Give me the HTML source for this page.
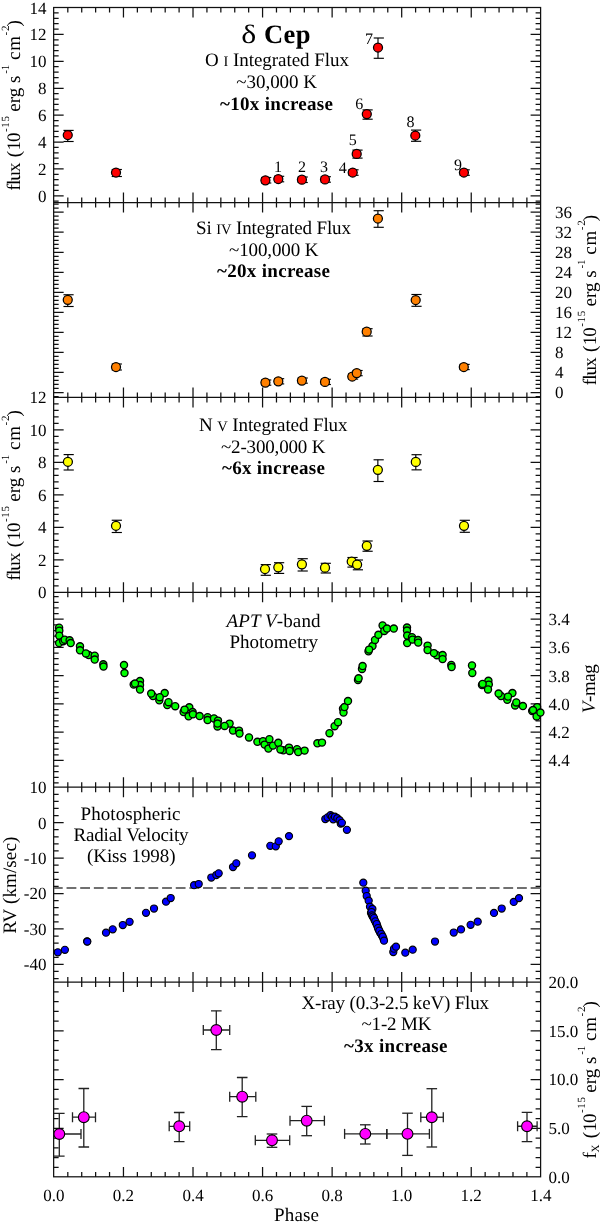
<!DOCTYPE html>
<html><head><meta charset="utf-8"><style>
html,body{margin:0;padding:0;background:#fff;width:600px;height:1222px;overflow:hidden}
svg{display:block;will-change:transform}
text{fill:#000;text-rendering:geometricPrecision;-webkit-font-smoothing:antialiased}
</style></head><body>
<svg width="600" height="1222" viewBox="0 0 600 1222">
<defs><clipPath id="c6"><rect x="53.65" y="982.1" width="486.95" height="194.9"/></clipPath></defs>
<rect width="600" height="1222" fill="#fff"/>
<path d="M67.81 7.60V12.60M67.81 202.50V197.50M81.72 7.60V12.60M81.72 202.50V197.50M95.63 7.60V12.60M95.63 202.50V197.50M109.55 7.60V12.60M109.55 202.50V197.50M123.46 7.60V17.60M123.46 202.50V192.50M137.37 7.60V12.60M137.37 202.50V197.50M151.28 7.60V12.60M151.28 202.50V197.50M165.19 7.60V12.60M165.19 202.50V197.50M179.10 7.60V12.60M179.10 202.50V197.50M193.01 7.60V17.60M193.01 202.50V192.50M206.93 7.60V12.60M206.93 202.50V197.50M220.84 7.60V12.60M220.84 202.50V197.50M234.75 7.60V12.60M234.75 202.50V197.50M248.66 7.60V12.60M248.66 202.50V197.50M262.57 7.60V17.60M262.57 202.50V192.50M276.48 7.60V12.60M276.48 202.50V197.50M290.39 7.60V12.60M290.39 202.50V197.50M304.31 7.60V12.60M304.31 202.50V197.50M318.22 7.60V12.60M318.22 202.50V197.50M332.13 7.60V17.60M332.13 202.50V192.50M346.04 7.60V12.60M346.04 202.50V197.50M359.95 7.60V12.60M359.95 202.50V197.50M373.86 7.60V12.60M373.86 202.50V197.50M387.77 7.60V12.60M387.77 202.50V197.50M401.69 7.60V17.60M401.69 202.50V192.50M415.60 7.60V12.60M415.60 202.50V197.50M429.51 7.60V12.60M429.51 202.50V197.50M443.42 7.60V12.60M443.42 202.50V197.50M457.33 7.60V12.60M457.33 202.50V197.50M471.24 7.60V17.60M471.24 202.50V192.50M485.15 7.60V12.60M485.15 202.50V197.50M499.07 7.60V12.60M499.07 202.50V197.50M512.98 7.60V12.60M512.98 202.50V197.50M526.89 7.60V12.60M526.89 202.50V197.50M67.81 202.50V207.50M67.81 397.40V392.40M81.72 202.50V207.50M81.72 397.40V392.40M95.63 202.50V207.50M95.63 397.40V392.40M109.55 202.50V207.50M109.55 397.40V392.40M123.46 202.50V212.50M123.46 397.40V387.40M137.37 202.50V207.50M137.37 397.40V392.40M151.28 202.50V207.50M151.28 397.40V392.40M165.19 202.50V207.50M165.19 397.40V392.40M179.10 202.50V207.50M179.10 397.40V392.40M193.01 202.50V212.50M193.01 397.40V387.40M206.93 202.50V207.50M206.93 397.40V392.40M220.84 202.50V207.50M220.84 397.40V392.40M234.75 202.50V207.50M234.75 397.40V392.40M248.66 202.50V207.50M248.66 397.40V392.40M262.57 202.50V212.50M262.57 397.40V387.40M276.48 202.50V207.50M276.48 397.40V392.40M290.39 202.50V207.50M290.39 397.40V392.40M304.31 202.50V207.50M304.31 397.40V392.40M318.22 202.50V207.50M318.22 397.40V392.40M332.13 202.50V212.50M332.13 397.40V387.40M346.04 202.50V207.50M346.04 397.40V392.40M359.95 202.50V207.50M359.95 397.40V392.40M373.86 202.50V207.50M373.86 397.40V392.40M387.77 202.50V207.50M387.77 397.40V392.40M401.69 202.50V212.50M401.69 397.40V387.40M415.60 202.50V207.50M415.60 397.40V392.40M429.51 202.50V207.50M429.51 397.40V392.40M443.42 202.50V207.50M443.42 397.40V392.40M457.33 202.50V207.50M457.33 397.40V392.40M471.24 202.50V212.50M471.24 397.40V387.40M485.15 202.50V207.50M485.15 397.40V392.40M499.07 202.50V207.50M499.07 397.40V392.40M512.98 202.50V207.50M512.98 397.40V392.40M526.89 202.50V207.50M526.89 397.40V392.40M67.81 397.40V402.40M67.81 592.30V587.30M81.72 397.40V402.40M81.72 592.30V587.30M95.63 397.40V402.40M95.63 592.30V587.30M109.55 397.40V402.40M109.55 592.30V587.30M123.46 397.40V407.40M123.46 592.30V582.30M137.37 397.40V402.40M137.37 592.30V587.30M151.28 397.40V402.40M151.28 592.30V587.30M165.19 397.40V402.40M165.19 592.30V587.30M179.10 397.40V402.40M179.10 592.30V587.30M193.01 397.40V407.40M193.01 592.30V582.30M206.93 397.40V402.40M206.93 592.30V587.30M220.84 397.40V402.40M220.84 592.30V587.30M234.75 397.40V402.40M234.75 592.30V587.30M248.66 397.40V402.40M248.66 592.30V587.30M262.57 397.40V407.40M262.57 592.30V582.30M276.48 397.40V402.40M276.48 592.30V587.30M290.39 397.40V402.40M290.39 592.30V587.30M304.31 397.40V402.40M304.31 592.30V587.30M318.22 397.40V402.40M318.22 592.30V587.30M332.13 397.40V407.40M332.13 592.30V582.30M346.04 397.40V402.40M346.04 592.30V587.30M359.95 397.40V402.40M359.95 592.30V587.30M373.86 397.40V402.40M373.86 592.30V587.30M387.77 397.40V402.40M387.77 592.30V587.30M401.69 397.40V407.40M401.69 592.30V582.30M415.60 397.40V402.40M415.60 592.30V587.30M429.51 397.40V402.40M429.51 592.30V587.30M443.42 397.40V402.40M443.42 592.30V587.30M457.33 397.40V402.40M457.33 592.30V587.30M471.24 397.40V407.40M471.24 592.30V582.30M485.15 397.40V402.40M485.15 592.30V587.30M499.07 397.40V402.40M499.07 592.30V587.30M512.98 397.40V402.40M512.98 592.30V587.30M526.89 397.40V402.40M526.89 592.30V587.30M67.81 592.30V597.30M67.81 787.20V782.20M81.72 592.30V597.30M81.72 787.20V782.20M95.63 592.30V597.30M95.63 787.20V782.20M109.55 592.30V597.30M109.55 787.20V782.20M123.46 592.30V602.30M123.46 787.20V777.20M137.37 592.30V597.30M137.37 787.20V782.20M151.28 592.30V597.30M151.28 787.20V782.20M165.19 592.30V597.30M165.19 787.20V782.20M179.10 592.30V597.30M179.10 787.20V782.20M193.01 592.30V602.30M193.01 787.20V777.20M206.93 592.30V597.30M206.93 787.20V782.20M220.84 592.30V597.30M220.84 787.20V782.20M234.75 592.30V597.30M234.75 787.20V782.20M248.66 592.30V597.30M248.66 787.20V782.20M262.57 592.30V602.30M262.57 787.20V777.20M276.48 592.30V597.30M276.48 787.20V782.20M290.39 592.30V597.30M290.39 787.20V782.20M304.31 592.30V597.30M304.31 787.20V782.20M318.22 592.30V597.30M318.22 787.20V782.20M332.13 592.30V602.30M332.13 787.20V777.20M346.04 592.30V597.30M346.04 787.20V782.20M359.95 592.30V597.30M359.95 787.20V782.20M373.86 592.30V597.30M373.86 787.20V782.20M387.77 592.30V597.30M387.77 787.20V782.20M401.69 592.30V602.30M401.69 787.20V777.20M415.60 592.30V597.30M415.60 787.20V782.20M429.51 592.30V597.30M429.51 787.20V782.20M443.42 592.30V597.30M443.42 787.20V782.20M457.33 592.30V597.30M457.33 787.20V782.20M471.24 592.30V602.30M471.24 787.20V777.20M485.15 592.30V597.30M485.15 787.20V782.20M499.07 592.30V597.30M499.07 787.20V782.20M512.98 592.30V597.30M512.98 787.20V782.20M526.89 592.30V597.30M526.89 787.20V782.20M67.81 787.20V792.20M67.81 982.10V977.10M81.72 787.20V792.20M81.72 982.10V977.10M95.63 787.20V792.20M95.63 982.10V977.10M109.55 787.20V792.20M109.55 982.10V977.10M123.46 787.20V797.20M123.46 982.10V972.10M137.37 787.20V792.20M137.37 982.10V977.10M151.28 787.20V792.20M151.28 982.10V977.10M165.19 787.20V792.20M165.19 982.10V977.10M179.10 787.20V792.20M179.10 982.10V977.10M193.01 787.20V797.20M193.01 982.10V972.10M206.93 787.20V792.20M206.93 982.10V977.10M220.84 787.20V792.20M220.84 982.10V977.10M234.75 787.20V792.20M234.75 982.10V977.10M248.66 787.20V792.20M248.66 982.10V977.10M262.57 787.20V797.20M262.57 982.10V972.10M276.48 787.20V792.20M276.48 982.10V977.10M290.39 787.20V792.20M290.39 982.10V977.10M304.31 787.20V792.20M304.31 982.10V977.10M318.22 787.20V792.20M318.22 982.10V977.10M332.13 787.20V797.20M332.13 982.10V972.10M346.04 787.20V792.20M346.04 982.10V977.10M359.95 787.20V792.20M359.95 982.10V977.10M373.86 787.20V792.20M373.86 982.10V977.10M387.77 787.20V792.20M387.77 982.10V977.10M401.69 787.20V797.20M401.69 982.10V972.10M415.60 787.20V792.20M415.60 982.10V977.10M429.51 787.20V792.20M429.51 982.10V977.10M443.42 787.20V792.20M443.42 982.10V977.10M457.33 787.20V792.20M457.33 982.10V977.10M471.24 787.20V797.20M471.24 982.10V972.10M485.15 787.20V792.20M485.15 982.10V977.10M499.07 787.20V792.20M499.07 982.10V977.10M512.98 787.20V792.20M512.98 982.10V977.10M526.89 787.20V792.20M526.89 982.10V977.10M67.81 982.10V987.10M67.81 1177.00V1172.00M81.72 982.10V987.10M81.72 1177.00V1172.00M95.63 982.10V987.10M95.63 1177.00V1172.00M109.55 982.10V987.10M109.55 1177.00V1172.00M123.46 982.10V992.10M123.46 1177.00V1167.00M137.37 982.10V987.10M137.37 1177.00V1172.00M151.28 982.10V987.10M151.28 1177.00V1172.00M165.19 982.10V987.10M165.19 1177.00V1172.00M179.10 982.10V987.10M179.10 1177.00V1172.00M193.01 982.10V992.10M193.01 1177.00V1167.00M206.93 982.10V987.10M206.93 1177.00V1172.00M220.84 982.10V987.10M220.84 1177.00V1172.00M234.75 982.10V987.10M234.75 1177.00V1172.00M248.66 982.10V987.10M248.66 1177.00V1172.00M262.57 982.10V992.10M262.57 1177.00V1167.00M276.48 982.10V987.10M276.48 1177.00V1172.00M290.39 982.10V987.10M290.39 1177.00V1172.00M304.31 982.10V987.10M304.31 1177.00V1172.00M318.22 982.10V987.10M318.22 1177.00V1172.00M332.13 982.10V992.10M332.13 1177.00V1167.00M346.04 982.10V987.10M346.04 1177.00V1172.00M359.95 982.10V987.10M359.95 1177.00V1172.00M373.86 982.10V987.10M373.86 1177.00V1172.00M387.77 982.10V987.10M387.77 1177.00V1172.00M401.69 982.10V992.10M401.69 1177.00V1167.00M415.60 982.10V987.10M415.60 1177.00V1172.00M429.51 982.10V987.10M429.51 1177.00V1172.00M443.42 982.10V987.10M443.42 1177.00V1172.00M457.33 982.10V987.10M457.33 1177.00V1172.00M471.24 982.10V992.10M471.24 1177.00V1167.00M485.15 982.10V987.10M485.15 1177.00V1172.00M499.07 982.10V987.10M499.07 1177.00V1172.00M512.98 982.10V987.10M512.98 1177.00V1172.00M526.89 982.10V987.10M526.89 1177.00V1172.00M53.65 201.16H58.65M540.60 201.16H535.60M53.65 195.78H63.65M540.60 195.78H530.60M53.65 190.40H58.65M540.60 190.40H535.60M53.65 185.03H58.65M540.60 185.03H535.60M53.65 179.65H58.65M540.60 179.65H535.60M53.65 174.27H58.65M540.60 174.27H535.60M53.65 168.90H63.65M540.60 168.90H530.60M53.65 163.52H58.65M540.60 163.52H535.60M53.65 158.14H58.65M540.60 158.14H535.60M53.65 152.77H58.65M540.60 152.77H535.60M53.65 147.39H58.65M540.60 147.39H535.60M53.65 142.01H63.65M540.60 142.01H530.60M53.65 136.64H58.65M540.60 136.64H535.60M53.65 131.26H58.65M540.60 131.26H535.60M53.65 125.88H58.65M540.60 125.88H535.60M53.65 120.51H58.65M540.60 120.51H535.60M53.65 115.13H63.65M540.60 115.13H530.60M53.65 109.75H58.65M540.60 109.75H535.60M53.65 104.38H58.65M540.60 104.38H535.60M53.65 99.00H58.65M540.60 99.00H535.60M53.65 93.62H58.65M540.60 93.62H535.60M53.65 88.25H63.65M540.60 88.25H530.60M53.65 82.87H58.65M540.60 82.87H535.60M53.65 77.50H58.65M540.60 77.50H535.60M53.65 72.12H58.65M540.60 72.12H535.60M53.65 66.74H58.65M540.60 66.74H535.60M53.65 61.37H63.65M540.60 61.37H530.60M53.65 55.99H58.65M540.60 55.99H535.60M53.65 50.61H58.65M540.60 50.61H535.60M53.65 45.24H58.65M540.60 45.24H535.60M53.65 39.86H58.65M540.60 39.86H535.60M53.65 34.48H63.65M540.60 34.48H530.60M53.65 29.11H58.65M540.60 29.11H535.60M53.65 23.73H58.65M540.60 23.73H535.60M53.65 18.35H58.65M540.60 18.35H535.60M53.65 12.98H58.65M540.60 12.98H535.60M53.65 396.51H58.65M540.60 396.51H535.60M53.65 392.50H63.65M540.60 392.50H530.60M53.65 388.49H58.65M540.60 388.49H535.60M53.65 384.49H58.65M540.60 384.49H535.60M53.65 380.48H58.65M540.60 380.48H535.60M53.65 376.47H58.65M540.60 376.47H535.60M53.65 372.47H63.65M540.60 372.47H530.60M53.65 368.46H58.65M540.60 368.46H535.60M53.65 364.46H58.65M540.60 364.46H535.60M53.65 360.45H58.65M540.60 360.45H535.60M53.65 356.44H58.65M540.60 356.44H535.60M53.65 352.44H63.65M540.60 352.44H530.60M53.65 348.43H58.65M540.60 348.43H535.60M53.65 344.42H58.65M540.60 344.42H535.60M53.65 340.42H58.65M540.60 340.42H535.60M53.65 336.41H58.65M540.60 336.41H535.60M53.65 332.40H63.65M540.60 332.40H530.60M53.65 328.40H58.65M540.60 328.40H535.60M53.65 324.39H58.65M540.60 324.39H535.60M53.65 320.38H58.65M540.60 320.38H535.60M53.65 316.38H58.65M540.60 316.38H535.60M53.65 312.37H63.65M540.60 312.37H530.60M53.65 308.37H58.65M540.60 308.37H535.60M53.65 304.36H58.65M540.60 304.36H535.60M53.65 300.35H58.65M540.60 300.35H535.60M53.65 296.35H58.65M540.60 296.35H535.60M53.65 292.34H63.65M540.60 292.34H530.60M53.65 288.33H58.65M540.60 288.33H535.60M53.65 284.33H58.65M540.60 284.33H535.60M53.65 280.32H58.65M540.60 280.32H535.60M53.65 276.31H58.65M540.60 276.31H535.60M53.65 272.31H63.65M540.60 272.31H530.60M53.65 268.30H58.65M540.60 268.30H535.60M53.65 264.30H58.65M540.60 264.30H535.60M53.65 260.29H58.65M540.60 260.29H535.60M53.65 256.28H58.65M540.60 256.28H535.60M53.65 252.28H63.65M540.60 252.28H530.60M53.65 248.27H58.65M540.60 248.27H535.60M53.65 244.26H58.65M540.60 244.26H535.60M53.65 240.26H58.65M540.60 240.26H535.60M53.65 236.25H58.65M540.60 236.25H535.60M53.65 232.24H63.65M540.60 232.24H530.60M53.65 228.24H58.65M540.60 228.24H535.60M53.65 224.23H58.65M540.60 224.23H535.60M53.65 220.22H58.65M540.60 220.22H535.60M53.65 216.22H58.65M540.60 216.22H535.60M53.65 212.21H63.65M540.60 212.21H530.60M53.65 208.21H58.65M540.60 208.21H535.60M53.65 204.20H58.65M540.60 204.20H535.60M53.65 585.80H58.65M540.60 585.80H535.60M53.65 579.31H58.65M540.60 579.31H535.60M53.65 572.81H58.65M540.60 572.81H535.60M53.65 566.31H58.65M540.60 566.31H535.60M53.65 559.82H63.65M540.60 559.82H530.60M53.65 553.32H58.65M540.60 553.32H535.60M53.65 546.82H58.65M540.60 546.82H535.60M53.65 540.33H58.65M540.60 540.33H535.60M53.65 533.83H58.65M540.60 533.83H535.60M53.65 527.33H63.65M540.60 527.33H530.60M53.65 520.84H58.65M540.60 520.84H535.60M53.65 514.34H58.65M540.60 514.34H535.60M53.65 507.84H58.65M540.60 507.84H535.60M53.65 501.35H58.65M540.60 501.35H535.60M53.65 494.85H63.65M540.60 494.85H530.60M53.65 488.35H58.65M540.60 488.35H535.60M53.65 481.86H58.65M540.60 481.86H535.60M53.65 475.36H58.65M540.60 475.36H535.60M53.65 468.86H58.65M540.60 468.86H535.60M53.65 462.37H63.65M540.60 462.37H530.60M53.65 455.87H58.65M540.60 455.87H535.60M53.65 449.37H58.65M540.60 449.37H535.60M53.65 442.88H58.65M540.60 442.88H535.60M53.65 436.38H58.65M540.60 436.38H535.60M53.65 429.88H63.65M540.60 429.88H530.60M53.65 423.39H58.65M540.60 423.39H535.60M53.65 416.89H58.65M540.60 416.89H535.60M53.65 410.39H58.65M540.60 410.39H535.60M53.65 403.90H58.65M540.60 403.90H535.60M53.65 596.61H58.65M540.60 596.61H535.60M53.65 602.26H58.65M540.60 602.26H535.60M53.65 607.90H58.65M540.60 607.90H535.60M53.65 613.55H58.65M540.60 613.55H535.60M53.65 619.20H63.65M540.60 619.20H530.60M53.65 624.85H58.65M540.60 624.85H535.60M53.65 630.50H58.65M540.60 630.50H535.60M53.65 636.14H58.65M540.60 636.14H535.60M53.65 641.79H58.65M540.60 641.79H535.60M53.65 647.44H63.65M540.60 647.44H530.60M53.65 653.09H58.65M540.60 653.09H535.60M53.65 658.74H58.65M540.60 658.74H535.60M53.65 664.38H58.65M540.60 664.38H535.60M53.65 670.03H58.65M540.60 670.03H535.60M53.65 675.68H63.65M540.60 675.68H530.60M53.65 681.33H58.65M540.60 681.33H535.60M53.65 686.98H58.65M540.60 686.98H535.60M53.65 692.62H58.65M540.60 692.62H535.60M53.65 698.27H58.65M540.60 698.27H535.60M53.65 703.92H63.65M540.60 703.92H530.60M53.65 709.57H58.65M540.60 709.57H535.60M53.65 715.22H58.65M540.60 715.22H535.60M53.65 720.86H58.65M540.60 720.86H535.60M53.65 726.51H58.65M540.60 726.51H535.60M53.65 732.16H63.65M540.60 732.16H530.60M53.65 737.81H58.65M540.60 737.81H535.60M53.65 743.46H58.65M540.60 743.46H535.60M53.65 749.10H58.65M540.60 749.10H535.60M53.65 754.75H58.65M540.60 754.75H535.60M53.65 760.40H63.65M540.60 760.40H530.60M53.65 766.05H58.65M540.60 766.05H535.60M53.65 771.70H58.65M540.60 771.70H535.60M53.65 777.34H58.65M540.60 777.34H535.60M53.65 782.99H58.65M540.60 782.99H535.60M53.65 978.56H58.65M540.60 978.56H535.60M53.65 971.47H58.65M540.60 971.47H535.60M53.65 964.38H63.65M540.60 964.38H530.60M53.65 957.29H58.65M540.60 957.29H535.60M53.65 950.21H58.65M540.60 950.21H535.60M53.65 943.12H58.65M540.60 943.12H535.60M53.65 936.03H58.65M540.60 936.03H535.60M53.65 928.95H63.65M540.60 928.95H530.60M53.65 921.86H58.65M540.60 921.86H535.60M53.65 914.77H58.65M540.60 914.77H535.60M53.65 907.68H58.65M540.60 907.68H535.60M53.65 900.60H58.65M540.60 900.60H535.60M53.65 893.51H63.65M540.60 893.51H530.60M53.65 886.42H58.65M540.60 886.42H535.60M53.65 879.33H58.65M540.60 879.33H535.60M53.65 872.25H58.65M540.60 872.25H535.60M53.65 865.16H58.65M540.60 865.16H535.60M53.65 858.07H63.65M540.60 858.07H530.60M53.65 850.99H58.65M540.60 850.99H535.60M53.65 843.90H58.65M540.60 843.90H535.60M53.65 836.81H58.65M540.60 836.81H535.60M53.65 829.72H58.65M540.60 829.72H535.60M53.65 822.64H63.65M540.60 822.64H530.60M53.65 815.55H58.65M540.60 815.55H535.60M53.65 808.46H58.65M540.60 808.46H535.60M53.65 801.37H58.65M540.60 801.37H535.60M53.65 794.29H58.65M540.60 794.29H535.60M53.65 1167.26H58.65M540.60 1167.26H535.60M53.65 1157.51H58.65M540.60 1157.51H535.60M53.65 1147.77H58.65M540.60 1147.77H535.60M53.65 1138.02H58.65M540.60 1138.02H535.60M53.65 1128.28H63.65M540.60 1128.28H530.60M53.65 1118.53H58.65M540.60 1118.53H535.60M53.65 1108.79H58.65M540.60 1108.79H535.60M53.65 1099.04H58.65M540.60 1099.04H535.60M53.65 1089.30H58.65M540.60 1089.30H535.60M53.65 1079.55H63.65M540.60 1079.55H530.60M53.65 1069.81H58.65M540.60 1069.81H535.60M53.65 1060.06H58.65M540.60 1060.06H535.60M53.65 1050.32H58.65M540.60 1050.32H535.60M53.65 1040.57H58.65M540.60 1040.57H535.60M53.65 1030.83H63.65M540.60 1030.83H530.60M53.65 1021.08H58.65M540.60 1021.08H535.60M53.65 1011.34H58.65M540.60 1011.34H535.60M53.65 1001.59H58.65M540.60 1001.59H535.60M53.65 991.85H58.65M540.60 991.85H535.60" stroke="#111" stroke-width="1.25" fill="none"/>
<rect x="53.65" y="7.5" width="486.95" height="1169.30" fill="none" stroke="#111" stroke-width="1.25"/>
<line x1="53.65" y1="202.50" x2="540.60" y2="202.50" stroke="#111" stroke-width="1.25"/>
<line x1="53.65" y1="397.40" x2="540.60" y2="397.40" stroke="#111" stroke-width="1.25"/>
<line x1="53.65" y1="592.30" x2="540.60" y2="592.30" stroke="#111" stroke-width="1.25"/>
<line x1="53.65" y1="787.20" x2="540.60" y2="787.20" stroke="#111" stroke-width="1.25"/>
<line x1="53.65" y1="982.10" x2="540.60" y2="982.10" stroke="#111" stroke-width="1.25"/>
<text x="46.40" y="201.68" font-family="Liberation Serif" font-size="17" text-anchor="end">0</text>
<text x="46.40" y="174.80" font-family="Liberation Serif" font-size="17" text-anchor="end">2</text>
<text x="46.40" y="147.91" font-family="Liberation Serif" font-size="17" text-anchor="end">4</text>
<text x="46.40" y="121.03" font-family="Liberation Serif" font-size="17" text-anchor="end">6</text>
<text x="46.40" y="94.15" font-family="Liberation Serif" font-size="17" text-anchor="end">8</text>
<text x="46.40" y="67.27" font-family="Liberation Serif" font-size="17" text-anchor="end">10</text>
<text x="46.40" y="40.38" font-family="Liberation Serif" font-size="17" text-anchor="end">12</text>
<text x="46.40" y="13.50" font-family="Liberation Serif" font-size="17" text-anchor="end">14</text>
<text x="555.00" y="398.40" font-family="Liberation Serif" font-size="17" text-anchor="start">0</text>
<text x="555.00" y="378.37" font-family="Liberation Serif" font-size="17" text-anchor="start">4</text>
<text x="555.00" y="358.34" font-family="Liberation Serif" font-size="17" text-anchor="start">8</text>
<text x="555.00" y="338.30" font-family="Liberation Serif" font-size="17" text-anchor="start">12</text>
<text x="555.00" y="318.27" font-family="Liberation Serif" font-size="17" text-anchor="start">16</text>
<text x="555.00" y="298.24" font-family="Liberation Serif" font-size="17" text-anchor="start">20</text>
<text x="555.00" y="278.21" font-family="Liberation Serif" font-size="17" text-anchor="start">24</text>
<text x="555.00" y="258.18" font-family="Liberation Serif" font-size="17" text-anchor="start">28</text>
<text x="555.00" y="238.14" font-family="Liberation Serif" font-size="17" text-anchor="start">32</text>
<text x="555.00" y="218.11" font-family="Liberation Serif" font-size="17" text-anchor="start">36</text>
<text x="46.40" y="598.20" font-family="Liberation Serif" font-size="17" text-anchor="end">0</text>
<text x="46.40" y="565.72" font-family="Liberation Serif" font-size="17" text-anchor="end">2</text>
<text x="46.40" y="533.23" font-family="Liberation Serif" font-size="17" text-anchor="end">4</text>
<text x="46.40" y="500.75" font-family="Liberation Serif" font-size="17" text-anchor="end">6</text>
<text x="46.40" y="468.27" font-family="Liberation Serif" font-size="17" text-anchor="end">8</text>
<text x="46.40" y="435.78" font-family="Liberation Serif" font-size="17" text-anchor="end">10</text>
<text x="46.40" y="403.30" font-family="Liberation Serif" font-size="17" text-anchor="end">12</text>
<text x="548.60" y="625.10" font-family="Liberation Serif" font-size="17" text-anchor="start">3.4</text>
<text x="548.60" y="653.34" font-family="Liberation Serif" font-size="17" text-anchor="start">3.6</text>
<text x="548.60" y="681.58" font-family="Liberation Serif" font-size="17" text-anchor="start">3.8</text>
<text x="548.60" y="709.82" font-family="Liberation Serif" font-size="17" text-anchor="start">4.0</text>
<text x="548.60" y="738.06" font-family="Liberation Serif" font-size="17" text-anchor="start">4.2</text>
<text x="548.60" y="766.30" font-family="Liberation Serif" font-size="17" text-anchor="start">4.4</text>
<text x="46.40" y="793.10" font-family="Liberation Serif" font-size="17" text-anchor="end">10</text>
<text x="46.40" y="828.54" font-family="Liberation Serif" font-size="17" text-anchor="end">0</text>
<text x="46.40" y="863.97" font-family="Liberation Serif" font-size="17" text-anchor="end">-10</text>
<text x="46.40" y="899.41" font-family="Liberation Serif" font-size="17" text-anchor="end">-20</text>
<text x="46.40" y="934.85" font-family="Liberation Serif" font-size="17" text-anchor="end">-30</text>
<text x="46.40" y="970.28" font-family="Liberation Serif" font-size="17" text-anchor="end">-40</text>
<text x="548.60" y="1182.90" font-family="Liberation Serif" font-size="17" text-anchor="start">0.0</text>
<text x="548.60" y="1134.18" font-family="Liberation Serif" font-size="17" text-anchor="start">5.0</text>
<text x="548.60" y="1085.45" font-family="Liberation Serif" font-size="17" text-anchor="start">10.0</text>
<text x="548.60" y="1036.73" font-family="Liberation Serif" font-size="17" text-anchor="start">15.0</text>
<text x="548.60" y="988.00" font-family="Liberation Serif" font-size="17" text-anchor="start">20.0</text>
<text x="53.90" y="1200.6" font-family="Liberation Serif" font-size="17" text-anchor="middle">0.0</text>
<text x="123.46" y="1200.6" font-family="Liberation Serif" font-size="17" text-anchor="middle">0.2</text>
<text x="193.01" y="1200.6" font-family="Liberation Serif" font-size="17" text-anchor="middle">0.4</text>
<text x="262.57" y="1200.6" font-family="Liberation Serif" font-size="17" text-anchor="middle">0.6</text>
<text x="332.13" y="1200.6" font-family="Liberation Serif" font-size="17" text-anchor="middle">0.8</text>
<text x="401.69" y="1200.6" font-family="Liberation Serif" font-size="17" text-anchor="middle">1.0</text>
<text x="471.24" y="1200.6" font-family="Liberation Serif" font-size="17" text-anchor="middle">1.2</text>
<text x="540.80" y="1200.6" font-family="Liberation Serif" font-size="17" text-anchor="middle">1.4</text>
<g transform="translate(249.12 0) scale(1.2 1) translate(-249.12 0)"><text x="242.50" y="43.00" font-family="Liberation Serif" font-size="26.5" font-weight="normal">δ</text></g>
<text x="264.00" y="43.00" font-family="Liberation Serif" font-size="26.5" font-weight="bold" textLength="46.50" lengthAdjust="spacing">Cep</text>
<text x="205.00" y="66.00" font-family="Liberation Serif" font-size="19" font-weight="normal" textLength="144.00" lengthAdjust="spacing">O <tspan font-size="14.5">I</tspan> Integrated Flux</text>
<text x="236.25" y="87.80" font-family="Liberation Serif" font-size="19" font-weight="normal" textLength="80.75" lengthAdjust="spacing">~30,000 K</text>
<text x="220.00" y="109.60" font-family="Liberation Serif" font-size="19" font-weight="bold" textLength="113.00" lengthAdjust="spacing">~10x increase</text>
<text x="196.00" y="234.00" font-family="Liberation Serif" font-size="19" font-weight="normal" textLength="155.00" lengthAdjust="spacing">Si <tspan font-size="14.5">IV</tspan> Integrated Flux</text>
<text x="229.00" y="255.60" font-family="Liberation Serif" font-size="19" font-weight="normal" textLength="89.50" lengthAdjust="spacing">~100,000 K</text>
<text x="217.00" y="277.40" font-family="Liberation Serif" font-size="19" font-weight="bold" textLength="113.00" lengthAdjust="spacing">~20x increase</text>
<text x="199.00" y="431.00" font-family="Liberation Serif" font-size="19" font-weight="normal" textLength="148.50" lengthAdjust="spacing">N <tspan font-size="14.5">V</tspan> Integrated Flux</text>
<text x="221.00" y="452.60" font-family="Liberation Serif" font-size="19" font-weight="normal" textLength="104.50" lengthAdjust="spacing">~2-300,000 K</text>
<text x="222.00" y="474.00" font-family="Liberation Serif" font-size="19" font-weight="bold" textLength="103.00" lengthAdjust="spacing">~6x increase</text>
<text x="226.50" y="626.50" font-family="Liberation Serif" font-size="19" font-weight="normal" textLength="94.00" lengthAdjust="spacing"><tspan font-style="italic">APT V</tspan>-band</text>
<text x="229.50" y="648.00" font-family="Liberation Serif" font-size="19" font-weight="normal" textLength="88.50" lengthAdjust="spacing">Photometry</text>
<text x="80.50" y="819.70" font-family="Liberation Serif" font-size="19" font-weight="normal" textLength="100.00" lengthAdjust="spacing">Photospheric</text>
<text x="73.50" y="840.60" font-family="Liberation Serif" font-size="19" font-weight="normal" textLength="115.00" lengthAdjust="spacing">Radial Velocity</text>
<text x="87.00" y="861.80" font-family="Liberation Serif" font-size="19" font-weight="normal" textLength="88.50" lengthAdjust="spacing">(Kiss 1998)</text>
<text x="301.50" y="1008.50" font-family="Liberation Serif" font-size="19" font-weight="normal" textLength="187.50" lengthAdjust="spacing">X-ray (0.3-2.5 keV) Flux</text>
<text x="361.50" y="1029.70" font-family="Liberation Serif" font-size="19" font-weight="normal" textLength="70.00" lengthAdjust="spacing">~1-2 MK</text>
<text x="344.00" y="1052.00" font-family="Liberation Serif" font-size="19" font-weight="bold" textLength="103.50" lengthAdjust="spacing">~3x increase</text>
<text x="274.00" y="1221.30" font-family="Liberation Serif" font-size="19" font-weight="normal" textLength="45.00" lengthAdjust="spacing">Phase</text>
<text transform="translate(20.00,190.50) rotate(-90)" x="0" y="0" font-family="Liberation Serif" font-size="19" textLength="28.00" lengthAdjust="spacing">flux</text>
<text transform="translate(20.00,157.25) rotate(-90)" x="0" y="0" font-family="Liberation Serif" font-size="19">(</text>
<text transform="translate(20.00,150.50) rotate(-90)" x="0" y="0" font-family="Liberation Serif" font-size="19" textLength="18.00" lengthAdjust="spacing">10</text>
<text transform="translate(9.00,132.00) rotate(-90)" x="0" y="0" font-family="Liberation Serif" font-size="11" textLength="16.00" lengthAdjust="spacing">-15</text>
<text transform="translate(20.00,111.75) rotate(-90)" x="0" y="0" font-family="Liberation Serif" font-size="19" textLength="24.00" lengthAdjust="spacing">erg</text>
<text transform="translate(20.00,83.00) rotate(-90)" x="0" y="0" font-family="Liberation Serif" font-size="19">s</text>
<text transform="translate(9.00,73.75) rotate(-90)" x="0" y="0" font-family="Liberation Serif" font-size="11" textLength="9.00" lengthAdjust="spacing">-1</text>
<text transform="translate(20.00,60.00) rotate(-90)" x="0" y="0" font-family="Liberation Serif" font-size="19" textLength="24.00" lengthAdjust="spacing">cm</text>
<text transform="translate(9.00,35.50) rotate(-90)" x="0" y="0" font-family="Liberation Serif" font-size="11" textLength="10.00" lengthAdjust="spacing">-2</text>
<text transform="translate(20.00,26.50) rotate(-90)" x="0" y="0" font-family="Liberation Serif" font-size="19">)</text>
<text transform="translate(596.00,385.25) rotate(-90)" x="0" y="0" font-family="Liberation Serif" font-size="19" textLength="28.00" lengthAdjust="spacing">flux</text>
<text transform="translate(596.00,352.00) rotate(-90)" x="0" y="0" font-family="Liberation Serif" font-size="19">(</text>
<text transform="translate(596.00,345.25) rotate(-90)" x="0" y="0" font-family="Liberation Serif" font-size="19" textLength="18.00" lengthAdjust="spacing">10</text>
<text transform="translate(585.00,326.75) rotate(-90)" x="0" y="0" font-family="Liberation Serif" font-size="11" textLength="16.00" lengthAdjust="spacing">-15</text>
<text transform="translate(596.00,306.50) rotate(-90)" x="0" y="0" font-family="Liberation Serif" font-size="19" textLength="24.00" lengthAdjust="spacing">erg</text>
<text transform="translate(596.00,277.75) rotate(-90)" x="0" y="0" font-family="Liberation Serif" font-size="19">s</text>
<text transform="translate(585.00,268.50) rotate(-90)" x="0" y="0" font-family="Liberation Serif" font-size="11" textLength="9.00" lengthAdjust="spacing">-1</text>
<text transform="translate(596.00,254.75) rotate(-90)" x="0" y="0" font-family="Liberation Serif" font-size="19" textLength="24.00" lengthAdjust="spacing">cm</text>
<text transform="translate(585.00,230.25) rotate(-90)" x="0" y="0" font-family="Liberation Serif" font-size="11" textLength="10.00" lengthAdjust="spacing">-2</text>
<text transform="translate(596.00,221.25) rotate(-90)" x="0" y="0" font-family="Liberation Serif" font-size="19">)</text>
<text transform="translate(20.00,580.50) rotate(-90)" x="0" y="0" font-family="Liberation Serif" font-size="19" textLength="28.00" lengthAdjust="spacing">flux</text>
<text transform="translate(20.00,547.25) rotate(-90)" x="0" y="0" font-family="Liberation Serif" font-size="19">(</text>
<text transform="translate(20.00,540.50) rotate(-90)" x="0" y="0" font-family="Liberation Serif" font-size="19" textLength="18.00" lengthAdjust="spacing">10</text>
<text transform="translate(9.00,522.00) rotate(-90)" x="0" y="0" font-family="Liberation Serif" font-size="11" textLength="16.00" lengthAdjust="spacing">-15</text>
<text transform="translate(20.00,501.75) rotate(-90)" x="0" y="0" font-family="Liberation Serif" font-size="19" textLength="24.00" lengthAdjust="spacing">erg</text>
<text transform="translate(20.00,473.00) rotate(-90)" x="0" y="0" font-family="Liberation Serif" font-size="19">s</text>
<text transform="translate(9.00,463.75) rotate(-90)" x="0" y="0" font-family="Liberation Serif" font-size="11" textLength="9.00" lengthAdjust="spacing">-1</text>
<text transform="translate(20.00,450.00) rotate(-90)" x="0" y="0" font-family="Liberation Serif" font-size="19" textLength="24.00" lengthAdjust="spacing">cm</text>
<text transform="translate(9.00,425.50) rotate(-90)" x="0" y="0" font-family="Liberation Serif" font-size="11" textLength="10.00" lengthAdjust="spacing">-2</text>
<text transform="translate(20.00,416.50) rotate(-90)" x="0" y="0" font-family="Liberation Serif" font-size="19">)</text>
<text transform="translate(595.80,1158.50) rotate(-90)" x="0" y="0" font-family="Liberation Serif" font-size="19">f</text>
<text transform="translate(598.80,1152.50) rotate(-90)" x="0" y="0" font-family="Liberation Serif" font-size="11">X</text>
<text transform="translate(595.80,1138.25) rotate(-90)" x="0" y="0" font-family="Liberation Serif" font-size="19">(</text>
<text transform="translate(595.80,1131.50) rotate(-90)" x="0" y="0" font-family="Liberation Serif" font-size="19" textLength="18.00" lengthAdjust="spacing">10</text>
<text transform="translate(584.80,1113.00) rotate(-90)" x="0" y="0" font-family="Liberation Serif" font-size="11" textLength="16.00" lengthAdjust="spacing">-15</text>
<text transform="translate(595.80,1092.75) rotate(-90)" x="0" y="0" font-family="Liberation Serif" font-size="19" textLength="24.00" lengthAdjust="spacing">erg</text>
<text transform="translate(595.80,1064.00) rotate(-90)" x="0" y="0" font-family="Liberation Serif" font-size="19">s</text>
<text transform="translate(584.80,1054.75) rotate(-90)" x="0" y="0" font-family="Liberation Serif" font-size="11" textLength="9.00" lengthAdjust="spacing">-1</text>
<text transform="translate(595.80,1041.00) rotate(-90)" x="0" y="0" font-family="Liberation Serif" font-size="19" textLength="24.00" lengthAdjust="spacing">cm</text>
<text transform="translate(584.80,1016.50) rotate(-90)" x="0" y="0" font-family="Liberation Serif" font-size="11" textLength="10.00" lengthAdjust="spacing">-2</text>
<text transform="translate(595.80,1007.50) rotate(-90)" x="0" y="0" font-family="Liberation Serif" font-size="19">)</text>
<text transform="translate(15.80,933.70) rotate(-90)" x="0" y="0" font-family="Liberation Serif" font-size="19" textLength="97.00" lengthAdjust="spacing">RV (km/sec)</text>
<text transform="translate(595.40,713.20) rotate(-90)" x="0" y="0" font-family="Liberation Serif" font-size="19" textLength="49.00" lengthAdjust="spacing"><tspan font-style="italic">V</tspan>-mag</text>
<text x="277.9" y="171.7" font-family="Liberation Serif" font-size="16" text-anchor="middle">1</text>
<text x="301.9" y="171.7" font-family="Liberation Serif" font-size="16" text-anchor="middle">2</text>
<text x="323.9" y="171.7" font-family="Liberation Serif" font-size="16" text-anchor="middle">3</text>
<text x="342.8" y="172.5" font-family="Liberation Serif" font-size="16" text-anchor="middle">4</text>
<text x="352.7" y="145" font-family="Liberation Serif" font-size="16" text-anchor="middle">5</text>
<text x="359.3" y="108.5" font-family="Liberation Serif" font-size="16" text-anchor="middle">6</text>
<text x="369" y="43.7" font-family="Liberation Serif" font-size="16" text-anchor="middle">7</text>
<text x="410.5" y="126.5" font-family="Liberation Serif" font-size="16" text-anchor="middle">8</text>
<text x="458" y="169.5" font-family="Liberation Serif" font-size="16" text-anchor="middle">9</text>
<line x1="67.75" y1="130.40" x2="67.75" y2="141.50" stroke="#000" stroke-width="1.15"/>
<line x1="63.45" y1="130.40" x2="73.65" y2="130.40" stroke="#000" stroke-width="1.15"/>
<line x1="63.45" y1="141.50" x2="73.65" y2="141.50" stroke="#000" stroke-width="1.15"/>
<line x1="116.00" y1="169.50" x2="116.00" y2="176.50" stroke="#000" stroke-width="1.15"/>
<line x1="111.70" y1="169.50" x2="121.90" y2="169.50" stroke="#000" stroke-width="1.15"/>
<line x1="111.70" y1="176.50" x2="121.90" y2="176.50" stroke="#000" stroke-width="1.15"/>
<line x1="265.40" y1="177.50" x2="265.40" y2="183.00" stroke="#000" stroke-width="1.15"/>
<line x1="261.10" y1="177.50" x2="271.30" y2="177.50" stroke="#000" stroke-width="1.15"/>
<line x1="261.10" y1="183.00" x2="271.30" y2="183.00" stroke="#000" stroke-width="1.15"/>
<line x1="278.30" y1="176.30" x2="278.30" y2="181.80" stroke="#000" stroke-width="1.15"/>
<line x1="274.00" y1="176.30" x2="284.20" y2="176.30" stroke="#000" stroke-width="1.15"/>
<line x1="274.00" y1="181.80" x2="284.20" y2="181.80" stroke="#000" stroke-width="1.15"/>
<line x1="301.90" y1="177.00" x2="301.90" y2="182.50" stroke="#000" stroke-width="1.15"/>
<line x1="297.60" y1="177.00" x2="307.80" y2="177.00" stroke="#000" stroke-width="1.15"/>
<line x1="297.60" y1="182.50" x2="307.80" y2="182.50" stroke="#000" stroke-width="1.15"/>
<line x1="325.00" y1="176.70" x2="325.00" y2="182.20" stroke="#000" stroke-width="1.15"/>
<line x1="320.70" y1="176.70" x2="330.90" y2="176.70" stroke="#000" stroke-width="1.15"/>
<line x1="320.70" y1="182.20" x2="330.90" y2="182.20" stroke="#000" stroke-width="1.15"/>
<line x1="352.70" y1="169.80" x2="352.70" y2="175.30" stroke="#000" stroke-width="1.15"/>
<line x1="348.40" y1="169.80" x2="358.60" y2="169.80" stroke="#000" stroke-width="1.15"/>
<line x1="348.40" y1="175.30" x2="358.60" y2="175.30" stroke="#000" stroke-width="1.15"/>
<line x1="356.70" y1="150.10" x2="356.70" y2="158.10" stroke="#000" stroke-width="1.15"/>
<line x1="352.40" y1="150.10" x2="362.60" y2="150.10" stroke="#000" stroke-width="1.15"/>
<line x1="352.40" y1="158.10" x2="362.60" y2="158.10" stroke="#000" stroke-width="1.15"/>
<line x1="366.80" y1="109.90" x2="366.80" y2="119.20" stroke="#000" stroke-width="1.15"/>
<line x1="362.50" y1="109.90" x2="372.70" y2="109.90" stroke="#000" stroke-width="1.15"/>
<line x1="362.50" y1="119.20" x2="372.70" y2="119.20" stroke="#000" stroke-width="1.15"/>
<line x1="378.00" y1="38.00" x2="378.00" y2="58.30" stroke="#000" stroke-width="1.15"/>
<line x1="373.70" y1="38.00" x2="383.90" y2="38.00" stroke="#000" stroke-width="1.15"/>
<line x1="373.70" y1="58.30" x2="383.90" y2="58.30" stroke="#000" stroke-width="1.15"/>
<line x1="415.30" y1="130.10" x2="415.30" y2="141.30" stroke="#000" stroke-width="1.15"/>
<line x1="411.00" y1="130.10" x2="421.20" y2="130.10" stroke="#000" stroke-width="1.15"/>
<line x1="411.00" y1="141.30" x2="421.20" y2="141.30" stroke="#000" stroke-width="1.15"/>
<line x1="463.90" y1="169.80" x2="463.90" y2="175.30" stroke="#000" stroke-width="1.15"/>
<line x1="459.60" y1="169.80" x2="469.80" y2="169.80" stroke="#000" stroke-width="1.15"/>
<line x1="459.60" y1="175.30" x2="469.80" y2="175.30" stroke="#000" stroke-width="1.15"/>
<circle cx="67.75" cy="135.00" r="4.5" fill="#ff0000" stroke="#000" stroke-width="1.25"/>
<circle cx="116.00" cy="172.50" r="4.5" fill="#ff0000" stroke="#000" stroke-width="1.25"/>
<circle cx="265.40" cy="180.30" r="4.5" fill="#ff0000" stroke="#000" stroke-width="1.25"/>
<circle cx="278.30" cy="179.00" r="4.5" fill="#ff0000" stroke="#000" stroke-width="1.25"/>
<circle cx="301.90" cy="179.70" r="4.5" fill="#ff0000" stroke="#000" stroke-width="1.25"/>
<circle cx="325.00" cy="179.40" r="4.5" fill="#ff0000" stroke="#000" stroke-width="1.25"/>
<circle cx="352.70" cy="172.50" r="4.5" fill="#ff0000" stroke="#000" stroke-width="1.25"/>
<circle cx="356.70" cy="153.90" r="4.5" fill="#ff0000" stroke="#000" stroke-width="1.25"/>
<circle cx="366.80" cy="114.10" r="4.5" fill="#ff0000" stroke="#000" stroke-width="1.25"/>
<circle cx="378.00" cy="47.50" r="4.5" fill="#ff0000" stroke="#000" stroke-width="1.25"/>
<circle cx="415.30" cy="135.50" r="4.5" fill="#ff0000" stroke="#000" stroke-width="1.25"/>
<circle cx="463.90" cy="172.50" r="4.5" fill="#ff0000" stroke="#000" stroke-width="1.25"/>
<line x1="67.75" y1="294.75" x2="67.75" y2="306.50" stroke="#000" stroke-width="1.15"/>
<line x1="63.45" y1="294.75" x2="73.65" y2="294.75" stroke="#000" stroke-width="1.15"/>
<line x1="63.45" y1="306.50" x2="73.65" y2="306.50" stroke="#000" stroke-width="1.15"/>
<line x1="116.00" y1="364.00" x2="116.00" y2="370.00" stroke="#000" stroke-width="1.15"/>
<line x1="111.70" y1="364.00" x2="121.90" y2="364.00" stroke="#000" stroke-width="1.15"/>
<line x1="111.70" y1="370.00" x2="121.90" y2="370.00" stroke="#000" stroke-width="1.15"/>
<line x1="265.40" y1="380.00" x2="265.40" y2="385.20" stroke="#000" stroke-width="1.15"/>
<line x1="261.10" y1="380.00" x2="271.30" y2="380.00" stroke="#000" stroke-width="1.15"/>
<line x1="261.10" y1="385.20" x2="271.30" y2="385.20" stroke="#000" stroke-width="1.15"/>
<line x1="278.30" y1="378.70" x2="278.30" y2="383.90" stroke="#000" stroke-width="1.15"/>
<line x1="274.00" y1="378.70" x2="284.20" y2="378.70" stroke="#000" stroke-width="1.15"/>
<line x1="274.00" y1="383.90" x2="284.20" y2="383.90" stroke="#000" stroke-width="1.15"/>
<line x1="301.90" y1="378.00" x2="301.90" y2="383.20" stroke="#000" stroke-width="1.15"/>
<line x1="297.60" y1="378.00" x2="307.80" y2="378.00" stroke="#000" stroke-width="1.15"/>
<line x1="297.60" y1="383.20" x2="307.80" y2="383.20" stroke="#000" stroke-width="1.15"/>
<line x1="325.00" y1="379.30" x2="325.00" y2="384.50" stroke="#000" stroke-width="1.15"/>
<line x1="320.70" y1="379.30" x2="330.90" y2="379.30" stroke="#000" stroke-width="1.15"/>
<line x1="320.70" y1="384.50" x2="330.90" y2="384.50" stroke="#000" stroke-width="1.15"/>
<line x1="352.25" y1="373.90" x2="352.25" y2="379.10" stroke="#000" stroke-width="1.15"/>
<line x1="347.95" y1="373.90" x2="358.15" y2="373.90" stroke="#000" stroke-width="1.15"/>
<line x1="347.95" y1="379.10" x2="358.15" y2="379.10" stroke="#000" stroke-width="1.15"/>
<line x1="356.75" y1="370.50" x2="356.75" y2="375.70" stroke="#000" stroke-width="1.15"/>
<line x1="352.45" y1="370.50" x2="362.65" y2="370.50" stroke="#000" stroke-width="1.15"/>
<line x1="352.45" y1="375.70" x2="362.65" y2="375.70" stroke="#000" stroke-width="1.15"/>
<line x1="366.70" y1="328.70" x2="366.70" y2="336.00" stroke="#000" stroke-width="1.15"/>
<line x1="362.40" y1="328.70" x2="372.60" y2="328.70" stroke="#000" stroke-width="1.15"/>
<line x1="362.40" y1="336.00" x2="372.60" y2="336.00" stroke="#000" stroke-width="1.15"/>
<line x1="377.90" y1="210.70" x2="377.90" y2="227.30" stroke="#000" stroke-width="1.15"/>
<line x1="373.60" y1="210.70" x2="383.80" y2="210.70" stroke="#000" stroke-width="1.15"/>
<line x1="373.60" y1="227.30" x2="383.80" y2="227.30" stroke="#000" stroke-width="1.15"/>
<line x1="415.70" y1="294.50" x2="415.70" y2="306.30" stroke="#000" stroke-width="1.15"/>
<line x1="411.40" y1="294.50" x2="421.60" y2="294.50" stroke="#000" stroke-width="1.15"/>
<line x1="411.40" y1="306.30" x2="421.60" y2="306.30" stroke="#000" stroke-width="1.15"/>
<line x1="463.80" y1="364.40" x2="463.80" y2="369.60" stroke="#000" stroke-width="1.15"/>
<line x1="459.50" y1="364.40" x2="469.70" y2="364.40" stroke="#000" stroke-width="1.15"/>
<line x1="459.50" y1="369.60" x2="469.70" y2="369.60" stroke="#000" stroke-width="1.15"/>
<circle cx="67.75" cy="299.85" r="4.5" fill="#ff8000" stroke="#000" stroke-width="1.25"/>
<circle cx="116.00" cy="367.00" r="4.5" fill="#ff8000" stroke="#000" stroke-width="1.25"/>
<circle cx="265.40" cy="382.60" r="4.5" fill="#ff8000" stroke="#000" stroke-width="1.25"/>
<circle cx="278.30" cy="381.30" r="4.5" fill="#ff8000" stroke="#000" stroke-width="1.25"/>
<circle cx="301.90" cy="380.60" r="4.5" fill="#ff8000" stroke="#000" stroke-width="1.25"/>
<circle cx="325.00" cy="381.90" r="4.5" fill="#ff8000" stroke="#000" stroke-width="1.25"/>
<circle cx="352.25" cy="376.50" r="4.5" fill="#ff8000" stroke="#000" stroke-width="1.25"/>
<circle cx="356.75" cy="373.10" r="4.5" fill="#ff8000" stroke="#000" stroke-width="1.25"/>
<circle cx="366.70" cy="331.70" r="4.5" fill="#ff8000" stroke="#000" stroke-width="1.25"/>
<circle cx="377.90" cy="218.50" r="4.5" fill="#ff8000" stroke="#000" stroke-width="1.25"/>
<circle cx="415.70" cy="300.00" r="4.5" fill="#ff8000" stroke="#000" stroke-width="1.25"/>
<circle cx="463.80" cy="367.00" r="4.5" fill="#ff8000" stroke="#000" stroke-width="1.25"/>
<line x1="67.90" y1="454.60" x2="67.90" y2="470.00" stroke="#000" stroke-width="1.15"/>
<line x1="63.60" y1="454.60" x2="73.80" y2="454.60" stroke="#000" stroke-width="1.15"/>
<line x1="63.60" y1="470.00" x2="73.80" y2="470.00" stroke="#000" stroke-width="1.15"/>
<line x1="116.00" y1="520.25" x2="116.00" y2="532.50" stroke="#000" stroke-width="1.15"/>
<line x1="111.70" y1="520.25" x2="121.90" y2="520.25" stroke="#000" stroke-width="1.15"/>
<line x1="111.70" y1="532.50" x2="121.90" y2="532.50" stroke="#000" stroke-width="1.15"/>
<line x1="265.00" y1="564.60" x2="265.00" y2="575.30" stroke="#000" stroke-width="1.15"/>
<line x1="260.70" y1="564.60" x2="270.90" y2="564.60" stroke="#000" stroke-width="1.15"/>
<line x1="260.70" y1="575.30" x2="270.90" y2="575.30" stroke="#000" stroke-width="1.15"/>
<line x1="278.30" y1="562.70" x2="278.30" y2="573.40" stroke="#000" stroke-width="1.15"/>
<line x1="274.00" y1="562.70" x2="284.20" y2="562.70" stroke="#000" stroke-width="1.15"/>
<line x1="274.00" y1="573.40" x2="284.20" y2="573.40" stroke="#000" stroke-width="1.15"/>
<line x1="301.90" y1="558.70" x2="301.90" y2="571.00" stroke="#000" stroke-width="1.15"/>
<line x1="297.60" y1="558.70" x2="307.80" y2="558.70" stroke="#000" stroke-width="1.15"/>
<line x1="297.60" y1="571.00" x2="307.80" y2="571.00" stroke="#000" stroke-width="1.15"/>
<line x1="325.00" y1="563.30" x2="325.00" y2="573.00" stroke="#000" stroke-width="1.15"/>
<line x1="320.70" y1="563.30" x2="330.90" y2="563.30" stroke="#000" stroke-width="1.15"/>
<line x1="320.70" y1="573.00" x2="330.90" y2="573.00" stroke="#000" stroke-width="1.15"/>
<line x1="351.70" y1="557.50" x2="351.70" y2="567.10" stroke="#000" stroke-width="1.15"/>
<line x1="347.40" y1="557.50" x2="357.60" y2="557.50" stroke="#000" stroke-width="1.15"/>
<line x1="347.40" y1="567.10" x2="357.60" y2="567.10" stroke="#000" stroke-width="1.15"/>
<line x1="357.10" y1="560.00" x2="357.10" y2="569.80" stroke="#000" stroke-width="1.15"/>
<line x1="352.80" y1="560.00" x2="363.00" y2="560.00" stroke="#000" stroke-width="1.15"/>
<line x1="352.80" y1="569.80" x2="363.00" y2="569.80" stroke="#000" stroke-width="1.15"/>
<line x1="366.80" y1="541.00" x2="366.80" y2="551.25" stroke="#000" stroke-width="1.15"/>
<line x1="362.50" y1="541.00" x2="372.70" y2="541.00" stroke="#000" stroke-width="1.15"/>
<line x1="362.50" y1="551.25" x2="372.70" y2="551.25" stroke="#000" stroke-width="1.15"/>
<line x1="377.85" y1="459.80" x2="377.85" y2="481.50" stroke="#000" stroke-width="1.15"/>
<line x1="373.55" y1="459.80" x2="383.75" y2="459.80" stroke="#000" stroke-width="1.15"/>
<line x1="373.55" y1="481.50" x2="383.75" y2="481.50" stroke="#000" stroke-width="1.15"/>
<line x1="415.80" y1="454.70" x2="415.80" y2="469.85" stroke="#000" stroke-width="1.15"/>
<line x1="411.50" y1="454.70" x2="421.70" y2="454.70" stroke="#000" stroke-width="1.15"/>
<line x1="411.50" y1="469.85" x2="421.70" y2="469.85" stroke="#000" stroke-width="1.15"/>
<line x1="464.00" y1="520.30" x2="464.00" y2="532.30" stroke="#000" stroke-width="1.15"/>
<line x1="459.70" y1="520.30" x2="469.90" y2="520.30" stroke="#000" stroke-width="1.15"/>
<line x1="459.70" y1="532.30" x2="469.90" y2="532.30" stroke="#000" stroke-width="1.15"/>
<circle cx="67.90" cy="461.75" r="4.5" fill="#ffff00" stroke="#000" stroke-width="1.25"/>
<circle cx="116.00" cy="525.75" r="4.5" fill="#ffff00" stroke="#000" stroke-width="1.25"/>
<circle cx="265.00" cy="569.00" r="4.5" fill="#ffff00" stroke="#000" stroke-width="1.25"/>
<circle cx="278.30" cy="567.30" r="4.5" fill="#ffff00" stroke="#000" stroke-width="1.25"/>
<circle cx="301.90" cy="564.30" r="4.5" fill="#ffff00" stroke="#000" stroke-width="1.25"/>
<circle cx="325.00" cy="567.70" r="4.5" fill="#ffff00" stroke="#000" stroke-width="1.25"/>
<circle cx="351.70" cy="561.50" r="4.5" fill="#ffff00" stroke="#000" stroke-width="1.25"/>
<circle cx="357.10" cy="564.60" r="4.5" fill="#ffff00" stroke="#000" stroke-width="1.25"/>
<circle cx="366.80" cy="545.80" r="4.5" fill="#ffff00" stroke="#000" stroke-width="1.25"/>
<circle cx="377.85" cy="469.85" r="4.5" fill="#ffff00" stroke="#000" stroke-width="1.25"/>
<circle cx="415.80" cy="461.90" r="4.5" fill="#ffff00" stroke="#000" stroke-width="1.25"/>
<circle cx="464.00" cy="525.80" r="4.5" fill="#ffff00" stroke="#000" stroke-width="1.25"/>
<circle cx="59.10" cy="627.70" r="3.55" fill="#00ff00" stroke="#000" stroke-width="1.35"/>
<circle cx="59.30" cy="630.70" r="3.55" fill="#00ff00" stroke="#000" stroke-width="1.35"/>
<circle cx="59.30" cy="635.70" r="3.55" fill="#00ff00" stroke="#000" stroke-width="1.35"/>
<circle cx="59.10" cy="643.00" r="3.55" fill="#00ff00" stroke="#000" stroke-width="1.35"/>
<circle cx="63.20" cy="641.20" r="3.55" fill="#00ff00" stroke="#000" stroke-width="1.35"/>
<circle cx="64.70" cy="639.70" r="3.55" fill="#00ff00" stroke="#000" stroke-width="1.35"/>
<circle cx="69.60" cy="640.30" r="3.55" fill="#00ff00" stroke="#000" stroke-width="1.35"/>
<circle cx="70.70" cy="643.00" r="3.55" fill="#00ff00" stroke="#000" stroke-width="1.35"/>
<circle cx="80.00" cy="646.30" r="3.55" fill="#00ff00" stroke="#000" stroke-width="1.35"/>
<circle cx="80.00" cy="650.30" r="3.55" fill="#00ff00" stroke="#000" stroke-width="1.35"/>
<circle cx="88.70" cy="655.00" r="3.55" fill="#00ff00" stroke="#000" stroke-width="1.35"/>
<circle cx="85.90" cy="653.40" r="3.55" fill="#00ff00" stroke="#000" stroke-width="1.35"/>
<circle cx="94.70" cy="655.70" r="3.55" fill="#00ff00" stroke="#000" stroke-width="1.35"/>
<circle cx="94.70" cy="659.50" r="3.55" fill="#00ff00" stroke="#000" stroke-width="1.35"/>
<circle cx="103.30" cy="664.30" r="3.55" fill="#00ff00" stroke="#000" stroke-width="1.35"/>
<circle cx="103.50" cy="666.50" r="3.55" fill="#00ff00" stroke="#000" stroke-width="1.35"/>
<circle cx="124.00" cy="665.00" r="3.55" fill="#00ff00" stroke="#000" stroke-width="1.35"/>
<circle cx="124.50" cy="673.00" r="3.55" fill="#00ff00" stroke="#000" stroke-width="1.35"/>
<circle cx="140.00" cy="681.00" r="3.55" fill="#00ff00" stroke="#000" stroke-width="1.35"/>
<circle cx="140.00" cy="685.00" r="3.55" fill="#00ff00" stroke="#000" stroke-width="1.35"/>
<circle cx="133.70" cy="684.50" r="3.55" fill="#00ff00" stroke="#000" stroke-width="1.35"/>
<circle cx="135.00" cy="683.50" r="3.55" fill="#00ff00" stroke="#000" stroke-width="1.35"/>
<circle cx="140.00" cy="689.50" r="3.55" fill="#00ff00" stroke="#000" stroke-width="1.35"/>
<circle cx="153.00" cy="696.00" r="3.55" fill="#00ff00" stroke="#000" stroke-width="1.35"/>
<circle cx="151.20" cy="693.50" r="3.55" fill="#00ff00" stroke="#000" stroke-width="1.35"/>
<circle cx="164.70" cy="693.00" r="3.55" fill="#00ff00" stroke="#000" stroke-width="1.35"/>
<circle cx="159.30" cy="700.30" r="3.55" fill="#00ff00" stroke="#000" stroke-width="1.35"/>
<circle cx="159.70" cy="697.20" r="3.55" fill="#00ff00" stroke="#000" stroke-width="1.35"/>
<circle cx="167.30" cy="705.00" r="3.55" fill="#00ff00" stroke="#000" stroke-width="1.35"/>
<circle cx="168.50" cy="702.20" r="3.55" fill="#00ff00" stroke="#000" stroke-width="1.35"/>
<circle cx="175.20" cy="706.20" r="3.55" fill="#00ff00" stroke="#000" stroke-width="1.35"/>
<circle cx="189.30" cy="707.30" r="3.55" fill="#00ff00" stroke="#000" stroke-width="1.35"/>
<circle cx="183.60" cy="712.00" r="3.55" fill="#00ff00" stroke="#000" stroke-width="1.35"/>
<circle cx="184.60" cy="709.60" r="3.55" fill="#00ff00" stroke="#000" stroke-width="1.35"/>
<circle cx="192.60" cy="712.00" r="3.55" fill="#00ff00" stroke="#000" stroke-width="1.35"/>
<circle cx="188.60" cy="716.30" r="3.55" fill="#00ff00" stroke="#000" stroke-width="1.35"/>
<circle cx="192.90" cy="714.30" r="3.55" fill="#00ff00" stroke="#000" stroke-width="1.35"/>
<circle cx="199.60" cy="716.00" r="3.55" fill="#00ff00" stroke="#000" stroke-width="1.35"/>
<circle cx="207.60" cy="717.20" r="3.55" fill="#00ff00" stroke="#000" stroke-width="1.35"/>
<circle cx="207.60" cy="720.00" r="3.55" fill="#00ff00" stroke="#000" stroke-width="1.35"/>
<circle cx="214.00" cy="718.40" r="3.55" fill="#00ff00" stroke="#000" stroke-width="1.35"/>
<circle cx="218.00" cy="720.60" r="3.55" fill="#00ff00" stroke="#000" stroke-width="1.35"/>
<circle cx="217.50" cy="726.40" r="3.55" fill="#00ff00" stroke="#000" stroke-width="1.35"/>
<circle cx="217.50" cy="723.50" r="3.55" fill="#00ff00" stroke="#000" stroke-width="1.35"/>
<circle cx="229.60" cy="723.60" r="3.55" fill="#00ff00" stroke="#000" stroke-width="1.35"/>
<circle cx="224.60" cy="725.90" r="3.55" fill="#00ff00" stroke="#000" stroke-width="1.35"/>
<circle cx="233.00" cy="730.50" r="3.55" fill="#00ff00" stroke="#000" stroke-width="1.35"/>
<circle cx="239.00" cy="730.60" r="3.55" fill="#00ff00" stroke="#000" stroke-width="1.35"/>
<circle cx="239.50" cy="733.50" r="3.55" fill="#00ff00" stroke="#000" stroke-width="1.35"/>
<circle cx="249.00" cy="737.40" r="3.55" fill="#00ff00" stroke="#000" stroke-width="1.35"/>
<circle cx="257.40" cy="741.80" r="3.55" fill="#00ff00" stroke="#000" stroke-width="1.35"/>
<circle cx="263.00" cy="741.20" r="3.55" fill="#00ff00" stroke="#000" stroke-width="1.35"/>
<circle cx="264.60" cy="744.60" r="3.55" fill="#00ff00" stroke="#000" stroke-width="1.35"/>
<circle cx="269.40" cy="739.20" r="3.55" fill="#00ff00" stroke="#000" stroke-width="1.35"/>
<circle cx="268.40" cy="748.60" r="3.55" fill="#00ff00" stroke="#000" stroke-width="1.35"/>
<circle cx="273.00" cy="745.60" r="3.55" fill="#00ff00" stroke="#000" stroke-width="1.35"/>
<circle cx="278.30" cy="742.80" r="3.55" fill="#00ff00" stroke="#000" stroke-width="1.35"/>
<circle cx="283.30" cy="750.30" r="3.55" fill="#00ff00" stroke="#000" stroke-width="1.35"/>
<circle cx="280.40" cy="749.40" r="3.55" fill="#00ff00" stroke="#000" stroke-width="1.35"/>
<circle cx="289.00" cy="747.60" r="3.55" fill="#00ff00" stroke="#000" stroke-width="1.35"/>
<circle cx="289.60" cy="750.90" r="3.55" fill="#00ff00" stroke="#000" stroke-width="1.35"/>
<circle cx="297.00" cy="749.20" r="3.55" fill="#00ff00" stroke="#000" stroke-width="1.35"/>
<circle cx="298.20" cy="752.10" r="3.55" fill="#00ff00" stroke="#000" stroke-width="1.35"/>
<circle cx="304.60" cy="750.60" r="3.55" fill="#00ff00" stroke="#000" stroke-width="1.35"/>
<circle cx="317.40" cy="743.30" r="3.55" fill="#00ff00" stroke="#000" stroke-width="1.35"/>
<circle cx="322.00" cy="742.60" r="3.55" fill="#00ff00" stroke="#000" stroke-width="1.35"/>
<circle cx="329.50" cy="733.20" r="3.55" fill="#00ff00" stroke="#000" stroke-width="1.35"/>
<circle cx="334.60" cy="726.20" r="3.55" fill="#00ff00" stroke="#000" stroke-width="1.35"/>
<circle cx="338.00" cy="722.20" r="3.55" fill="#00ff00" stroke="#000" stroke-width="1.35"/>
<circle cx="343.00" cy="708.70" r="3.55" fill="#00ff00" stroke="#000" stroke-width="1.35"/>
<circle cx="343.50" cy="712.50" r="3.55" fill="#00ff00" stroke="#000" stroke-width="1.35"/>
<circle cx="344.50" cy="707.00" r="3.55" fill="#00ff00" stroke="#000" stroke-width="1.35"/>
<circle cx="348.00" cy="701.00" r="3.55" fill="#00ff00" stroke="#000" stroke-width="1.35"/>
<circle cx="358.00" cy="680.00" r="3.55" fill="#00ff00" stroke="#000" stroke-width="1.35"/>
<circle cx="358.60" cy="678.30" r="3.55" fill="#00ff00" stroke="#000" stroke-width="1.35"/>
<circle cx="362.00" cy="668.90" r="3.55" fill="#00ff00" stroke="#000" stroke-width="1.35"/>
<circle cx="362.60" cy="666.00" r="3.55" fill="#00ff00" stroke="#000" stroke-width="1.35"/>
<circle cx="372.50" cy="646.00" r="3.55" fill="#00ff00" stroke="#000" stroke-width="1.35"/>
<circle cx="368.50" cy="651.30" r="3.55" fill="#00ff00" stroke="#000" stroke-width="1.35"/>
<circle cx="369.10" cy="649.60" r="3.55" fill="#00ff00" stroke="#000" stroke-width="1.35"/>
<circle cx="375.00" cy="639.90" r="3.55" fill="#00ff00" stroke="#000" stroke-width="1.35"/>
<circle cx="378.40" cy="634.80" r="3.55" fill="#00ff00" stroke="#000" stroke-width="1.35"/>
<circle cx="382.60" cy="625.40" r="3.55" fill="#00ff00" stroke="#000" stroke-width="1.35"/>
<circle cx="384.30" cy="630.90" r="3.55" fill="#00ff00" stroke="#000" stroke-width="1.35"/>
<circle cx="387.00" cy="628.50" r="3.55" fill="#00ff00" stroke="#000" stroke-width="1.35"/>
<circle cx="393.80" cy="628.50" r="3.55" fill="#00ff00" stroke="#000" stroke-width="1.35"/>
<circle cx="407.00" cy="627.50" r="3.55" fill="#00ff00" stroke="#000" stroke-width="1.35"/>
<circle cx="407.00" cy="630.50" r="3.55" fill="#00ff00" stroke="#000" stroke-width="1.35"/>
<circle cx="407.20" cy="635.50" r="3.55" fill="#00ff00" stroke="#000" stroke-width="1.35"/>
<circle cx="407.20" cy="643.00" r="3.55" fill="#00ff00" stroke="#000" stroke-width="1.35"/>
<circle cx="412.00" cy="637.20" r="3.55" fill="#00ff00" stroke="#000" stroke-width="1.35"/>
<circle cx="412.50" cy="639.60" r="3.55" fill="#00ff00" stroke="#000" stroke-width="1.35"/>
<circle cx="418.00" cy="640.00" r="3.55" fill="#00ff00" stroke="#000" stroke-width="1.35"/>
<circle cx="418.20" cy="642.60" r="3.55" fill="#00ff00" stroke="#000" stroke-width="1.35"/>
<circle cx="427.60" cy="645.60" r="3.55" fill="#00ff00" stroke="#000" stroke-width="1.35"/>
<circle cx="427.60" cy="650.10" r="3.55" fill="#00ff00" stroke="#000" stroke-width="1.35"/>
<circle cx="436.90" cy="655.20" r="3.55" fill="#00ff00" stroke="#000" stroke-width="1.35"/>
<circle cx="433.90" cy="653.10" r="3.55" fill="#00ff00" stroke="#000" stroke-width="1.35"/>
<circle cx="442.60" cy="655.00" r="3.55" fill="#00ff00" stroke="#000" stroke-width="1.35"/>
<circle cx="442.60" cy="659.10" r="3.55" fill="#00ff00" stroke="#000" stroke-width="1.35"/>
<circle cx="451.30" cy="664.90" r="3.55" fill="#00ff00" stroke="#000" stroke-width="1.35"/>
<circle cx="451.60" cy="667.00" r="3.55" fill="#00ff00" stroke="#000" stroke-width="1.35"/>
<circle cx="472.00" cy="665.40" r="3.55" fill="#00ff00" stroke="#000" stroke-width="1.35"/>
<circle cx="472.30" cy="672.90" r="3.55" fill="#00ff00" stroke="#000" stroke-width="1.35"/>
<circle cx="488.40" cy="680.80" r="3.55" fill="#00ff00" stroke="#000" stroke-width="1.35"/>
<circle cx="488.80" cy="684.60" r="3.55" fill="#00ff00" stroke="#000" stroke-width="1.35"/>
<circle cx="482.00" cy="684.90" r="3.55" fill="#00ff00" stroke="#000" stroke-width="1.35"/>
<circle cx="482.60" cy="683.90" r="3.55" fill="#00ff00" stroke="#000" stroke-width="1.35"/>
<circle cx="488.00" cy="689.40" r="3.55" fill="#00ff00" stroke="#000" stroke-width="1.35"/>
<circle cx="501.00" cy="696.00" r="3.55" fill="#00ff00" stroke="#000" stroke-width="1.35"/>
<circle cx="498.60" cy="693.50" r="3.55" fill="#00ff00" stroke="#000" stroke-width="1.35"/>
<circle cx="512.40" cy="693.00" r="3.55" fill="#00ff00" stroke="#000" stroke-width="1.35"/>
<circle cx="507.30" cy="699.80" r="3.55" fill="#00ff00" stroke="#000" stroke-width="1.35"/>
<circle cx="508.00" cy="696.60" r="3.55" fill="#00ff00" stroke="#000" stroke-width="1.35"/>
<circle cx="515.10" cy="705.40" r="3.55" fill="#00ff00" stroke="#000" stroke-width="1.35"/>
<circle cx="516.30" cy="702.40" r="3.55" fill="#00ff00" stroke="#000" stroke-width="1.35"/>
<circle cx="522.90" cy="706.00" r="3.55" fill="#00ff00" stroke="#000" stroke-width="1.35"/>
<circle cx="537.10" cy="707.10" r="3.55" fill="#00ff00" stroke="#000" stroke-width="1.35"/>
<circle cx="532.20" cy="711.00" r="3.55" fill="#00ff00" stroke="#000" stroke-width="1.35"/>
<circle cx="533.00" cy="710.00" r="3.55" fill="#00ff00" stroke="#000" stroke-width="1.35"/>
<circle cx="536.60" cy="716.40" r="3.55" fill="#00ff00" stroke="#000" stroke-width="1.35"/>
<circle cx="540.40" cy="712.50" r="3.55" fill="#00ff00" stroke="#000" stroke-width="1.35"/>
<line x1="53.9" y1="888.0" x2="540.8" y2="888.0" stroke="#707070" stroke-width="1.9" stroke-dasharray="9.8,3.85" stroke-dashoffset="1.0"/>
<circle cx="57.80" cy="952.30" r="3.55" fill="#0000ff" stroke="#000" stroke-width="1.15"/>
<circle cx="64.90" cy="949.80" r="3.55" fill="#0000ff" stroke="#000" stroke-width="1.15"/>
<circle cx="87.10" cy="941.30" r="3.55" fill="#0000ff" stroke="#000" stroke-width="1.15"/>
<circle cx="87.30" cy="941.60" r="3.55" fill="#0000ff" stroke="#000" stroke-width="1.15"/>
<circle cx="106.00" cy="932.70" r="3.55" fill="#0000ff" stroke="#000" stroke-width="1.15"/>
<circle cx="112.70" cy="929.30" r="3.55" fill="#0000ff" stroke="#000" stroke-width="1.15"/>
<circle cx="122.80" cy="925.00" r="3.55" fill="#0000ff" stroke="#000" stroke-width="1.15"/>
<circle cx="129.60" cy="921.80" r="3.55" fill="#0000ff" stroke="#000" stroke-width="1.15"/>
<circle cx="146.00" cy="912.80" r="3.55" fill="#0000ff" stroke="#000" stroke-width="1.15"/>
<circle cx="154.00" cy="908.50" r="3.55" fill="#0000ff" stroke="#000" stroke-width="1.15"/>
<circle cx="166.00" cy="901.70" r="3.55" fill="#0000ff" stroke="#000" stroke-width="1.15"/>
<circle cx="170.70" cy="898.00" r="3.55" fill="#0000ff" stroke="#000" stroke-width="1.15"/>
<circle cx="194.10" cy="885.20" r="3.55" fill="#0000ff" stroke="#000" stroke-width="1.15"/>
<circle cx="198.70" cy="884.00" r="3.55" fill="#0000ff" stroke="#000" stroke-width="1.15"/>
<circle cx="211.30" cy="877.50" r="3.55" fill="#0000ff" stroke="#000" stroke-width="1.15"/>
<circle cx="216.30" cy="875.00" r="3.55" fill="#0000ff" stroke="#000" stroke-width="1.15"/>
<circle cx="218.70" cy="873.30" r="3.55" fill="#0000ff" stroke="#000" stroke-width="1.15"/>
<circle cx="233.00" cy="867.00" r="3.55" fill="#0000ff" stroke="#000" stroke-width="1.15"/>
<circle cx="236.30" cy="863.30" r="3.55" fill="#0000ff" stroke="#000" stroke-width="1.15"/>
<circle cx="252.00" cy="855.30" r="3.55" fill="#0000ff" stroke="#000" stroke-width="1.15"/>
<circle cx="270.30" cy="845.80" r="3.55" fill="#0000ff" stroke="#000" stroke-width="1.15"/>
<circle cx="275.80" cy="846.30" r="3.55" fill="#0000ff" stroke="#000" stroke-width="1.15"/>
<circle cx="278.70" cy="841.30" r="3.55" fill="#0000ff" stroke="#000" stroke-width="1.15"/>
<circle cx="289.00" cy="836.10" r="3.55" fill="#0000ff" stroke="#000" stroke-width="1.15"/>
<circle cx="325.30" cy="819.00" r="3.55" fill="#0000ff" stroke="#000" stroke-width="1.15"/>
<circle cx="327.60" cy="817.30" r="3.55" fill="#0000ff" stroke="#000" stroke-width="1.15"/>
<circle cx="330.50" cy="815.20" r="3.55" fill="#0000ff" stroke="#000" stroke-width="1.15"/>
<circle cx="332.00" cy="816.70" r="3.55" fill="#0000ff" stroke="#000" stroke-width="1.15"/>
<circle cx="333.20" cy="819.30" r="3.55" fill="#0000ff" stroke="#000" stroke-width="1.15"/>
<circle cx="334.90" cy="816.70" r="3.55" fill="#0000ff" stroke="#000" stroke-width="1.15"/>
<circle cx="337.30" cy="818.10" r="3.55" fill="#0000ff" stroke="#000" stroke-width="1.15"/>
<circle cx="339.60" cy="820.20" r="3.55" fill="#0000ff" stroke="#000" stroke-width="1.15"/>
<circle cx="340.80" cy="823.70" r="3.55" fill="#0000ff" stroke="#000" stroke-width="1.15"/>
<circle cx="341.90" cy="822.80" r="3.55" fill="#0000ff" stroke="#000" stroke-width="1.15"/>
<circle cx="346.90" cy="829.80" r="3.55" fill="#0000ff" stroke="#000" stroke-width="1.15"/>
<circle cx="371.00" cy="913.00" r="3.55" fill="#0000ff" stroke="#000" stroke-width="1.15"/>
<circle cx="373.00" cy="917.00" r="3.55" fill="#0000ff" stroke="#000" stroke-width="1.15"/>
<circle cx="374.50" cy="920.00" r="3.55" fill="#0000ff" stroke="#000" stroke-width="1.15"/>
<circle cx="376.00" cy="923.00" r="3.55" fill="#0000ff" stroke="#000" stroke-width="1.15"/>
<circle cx="377.30" cy="926.00" r="3.55" fill="#0000ff" stroke="#000" stroke-width="1.15"/>
<circle cx="378.60" cy="929.50" r="3.55" fill="#0000ff" stroke="#000" stroke-width="1.15"/>
<circle cx="380.00" cy="932.50" r="3.55" fill="#0000ff" stroke="#000" stroke-width="1.15"/>
<circle cx="381.80" cy="935.30" r="3.55" fill="#0000ff" stroke="#000" stroke-width="1.15"/>
<circle cx="383.40" cy="938.50" r="3.55" fill="#0000ff" stroke="#000" stroke-width="1.15"/>
<circle cx="363.30" cy="882.70" r="3.55" fill="#0000ff" stroke="#000" stroke-width="1.15"/>
<circle cx="365.70" cy="890.70" r="3.55" fill="#0000ff" stroke="#000" stroke-width="1.15"/>
<circle cx="366.70" cy="896.00" r="3.55" fill="#0000ff" stroke="#000" stroke-width="1.15"/>
<circle cx="368.70" cy="900.70" r="3.55" fill="#0000ff" stroke="#000" stroke-width="1.15"/>
<circle cx="370.00" cy="906.70" r="3.55" fill="#0000ff" stroke="#000" stroke-width="1.15"/>
<circle cx="372.40" cy="908.90" r="3.55" fill="#0000ff" stroke="#000" stroke-width="1.15"/>
<circle cx="371.50" cy="912.00" r="3.55" fill="#0000ff" stroke="#000" stroke-width="1.15"/>
<circle cx="372.00" cy="915.30" r="3.55" fill="#0000ff" stroke="#000" stroke-width="1.15"/>
<circle cx="373.00" cy="916.50" r="3.55" fill="#0000ff" stroke="#000" stroke-width="1.15"/>
<circle cx="374.00" cy="918.00" r="3.55" fill="#0000ff" stroke="#000" stroke-width="1.15"/>
<circle cx="375.30" cy="921.30" r="3.55" fill="#0000ff" stroke="#000" stroke-width="1.15"/>
<circle cx="376.70" cy="924.00" r="3.55" fill="#0000ff" stroke="#000" stroke-width="1.15"/>
<circle cx="378.00" cy="928.00" r="3.55" fill="#0000ff" stroke="#000" stroke-width="1.15"/>
<circle cx="379.30" cy="930.70" r="3.55" fill="#0000ff" stroke="#000" stroke-width="1.15"/>
<circle cx="381.30" cy="934.00" r="3.55" fill="#0000ff" stroke="#000" stroke-width="1.15"/>
<circle cx="382.70" cy="936.70" r="3.55" fill="#0000ff" stroke="#000" stroke-width="1.15"/>
<circle cx="384.00" cy="940.70" r="3.55" fill="#0000ff" stroke="#000" stroke-width="1.15"/>
<circle cx="393.30" cy="952.00" r="3.55" fill="#0000ff" stroke="#000" stroke-width="1.15"/>
<circle cx="394.00" cy="948.70" r="3.55" fill="#0000ff" stroke="#000" stroke-width="1.15"/>
<circle cx="396.00" cy="946.70" r="3.55" fill="#0000ff" stroke="#000" stroke-width="1.15"/>
<circle cx="405.30" cy="952.70" r="3.55" fill="#0000ff" stroke="#000" stroke-width="1.15"/>
<circle cx="412.70" cy="949.70" r="3.55" fill="#0000ff" stroke="#000" stroke-width="1.15"/>
<circle cx="435.00" cy="941.50" r="3.55" fill="#0000ff" stroke="#000" stroke-width="1.15"/>
<circle cx="453.75" cy="932.50" r="3.55" fill="#0000ff" stroke="#000" stroke-width="1.15"/>
<circle cx="461.00" cy="929.40" r="3.55" fill="#0000ff" stroke="#000" stroke-width="1.15"/>
<circle cx="470.60" cy="924.80" r="3.55" fill="#0000ff" stroke="#000" stroke-width="1.15"/>
<circle cx="477.70" cy="921.70" r="3.55" fill="#0000ff" stroke="#000" stroke-width="1.15"/>
<circle cx="494.00" cy="912.90" r="3.55" fill="#0000ff" stroke="#000" stroke-width="1.15"/>
<circle cx="501.70" cy="908.50" r="3.55" fill="#0000ff" stroke="#000" stroke-width="1.15"/>
<circle cx="513.75" cy="901.90" r="3.55" fill="#0000ff" stroke="#000" stroke-width="1.15"/>
<circle cx="519.00" cy="898.10" r="3.55" fill="#0000ff" stroke="#000" stroke-width="1.15"/>
<g clip-path="url(#c6)">
<line x1="59.30" y1="1113.30" x2="59.30" y2="1156.20" stroke="#222" stroke-width="1.3"/>
<line x1="54.00" y1="1113.30" x2="64.60" y2="1113.30" stroke="#222" stroke-width="1.3"/>
<line x1="54.00" y1="1156.20" x2="64.60" y2="1156.20" stroke="#222" stroke-width="1.3"/>
<line x1="40.00" y1="1134.00" x2="81.00" y2="1134.00" stroke="#222" stroke-width="1.3"/>
<line x1="40.00" y1="1129.00" x2="40.00" y2="1139.00" stroke="#222" stroke-width="1.3"/>
<line x1="81.00" y1="1129.00" x2="81.00" y2="1139.00" stroke="#222" stroke-width="1.3"/>
<line x1="83.80" y1="1088.50" x2="83.80" y2="1147.00" stroke="#222" stroke-width="1.3"/>
<line x1="78.50" y1="1088.50" x2="89.10" y2="1088.50" stroke="#222" stroke-width="1.3"/>
<line x1="78.50" y1="1147.00" x2="89.10" y2="1147.00" stroke="#222" stroke-width="1.3"/>
<line x1="72.50" y1="1117.20" x2="95.50" y2="1117.20" stroke="#222" stroke-width="1.3"/>
<line x1="72.50" y1="1112.20" x2="72.50" y2="1122.20" stroke="#222" stroke-width="1.3"/>
<line x1="95.50" y1="1112.20" x2="95.50" y2="1122.20" stroke="#222" stroke-width="1.3"/>
<line x1="179.20" y1="1112.50" x2="179.20" y2="1141.70" stroke="#222" stroke-width="1.3"/>
<line x1="173.90" y1="1112.50" x2="184.50" y2="1112.50" stroke="#222" stroke-width="1.3"/>
<line x1="173.90" y1="1141.70" x2="184.50" y2="1141.70" stroke="#222" stroke-width="1.3"/>
<line x1="169.20" y1="1126.30" x2="189.70" y2="1126.30" stroke="#222" stroke-width="1.3"/>
<line x1="169.20" y1="1121.30" x2="169.20" y2="1131.30" stroke="#222" stroke-width="1.3"/>
<line x1="189.70" y1="1121.30" x2="189.70" y2="1131.30" stroke="#222" stroke-width="1.3"/>
<line x1="216.30" y1="1010.80" x2="216.30" y2="1049.70" stroke="#222" stroke-width="1.3"/>
<line x1="211.00" y1="1010.80" x2="221.60" y2="1010.80" stroke="#222" stroke-width="1.3"/>
<line x1="211.00" y1="1049.70" x2="221.60" y2="1049.70" stroke="#222" stroke-width="1.3"/>
<line x1="203.30" y1="1030.00" x2="229.70" y2="1030.00" stroke="#222" stroke-width="1.3"/>
<line x1="203.30" y1="1025.00" x2="203.30" y2="1035.00" stroke="#222" stroke-width="1.3"/>
<line x1="229.70" y1="1025.00" x2="229.70" y2="1035.00" stroke="#222" stroke-width="1.3"/>
<line x1="242.20" y1="1077.50" x2="242.20" y2="1116.70" stroke="#222" stroke-width="1.3"/>
<line x1="236.90" y1="1077.50" x2="247.50" y2="1077.50" stroke="#222" stroke-width="1.3"/>
<line x1="236.90" y1="1116.70" x2="247.50" y2="1116.70" stroke="#222" stroke-width="1.3"/>
<line x1="229.70" y1="1096.70" x2="255.80" y2="1096.70" stroke="#222" stroke-width="1.3"/>
<line x1="229.70" y1="1091.70" x2="229.70" y2="1101.70" stroke="#222" stroke-width="1.3"/>
<line x1="255.80" y1="1091.70" x2="255.80" y2="1101.70" stroke="#222" stroke-width="1.3"/>
<line x1="272.00" y1="1134.00" x2="272.00" y2="1147.30" stroke="#222" stroke-width="1.3"/>
<line x1="266.70" y1="1134.00" x2="277.30" y2="1134.00" stroke="#222" stroke-width="1.3"/>
<line x1="266.70" y1="1147.30" x2="277.30" y2="1147.30" stroke="#222" stroke-width="1.3"/>
<line x1="255.30" y1="1140.30" x2="289.70" y2="1140.30" stroke="#222" stroke-width="1.3"/>
<line x1="255.30" y1="1135.30" x2="255.30" y2="1145.30" stroke="#222" stroke-width="1.3"/>
<line x1="289.70" y1="1135.30" x2="289.70" y2="1145.30" stroke="#222" stroke-width="1.3"/>
<line x1="306.70" y1="1106.40" x2="306.70" y2="1135.70" stroke="#222" stroke-width="1.3"/>
<line x1="301.40" y1="1106.40" x2="312.00" y2="1106.40" stroke="#222" stroke-width="1.3"/>
<line x1="301.40" y1="1135.70" x2="312.00" y2="1135.70" stroke="#222" stroke-width="1.3"/>
<line x1="290.00" y1="1120.70" x2="324.40" y2="1120.70" stroke="#222" stroke-width="1.3"/>
<line x1="290.00" y1="1115.70" x2="290.00" y2="1125.70" stroke="#222" stroke-width="1.3"/>
<line x1="324.40" y1="1115.70" x2="324.40" y2="1125.70" stroke="#222" stroke-width="1.3"/>
<line x1="365.30" y1="1124.80" x2="365.30" y2="1144.00" stroke="#222" stroke-width="1.3"/>
<line x1="360.00" y1="1124.80" x2="370.60" y2="1124.80" stroke="#222" stroke-width="1.3"/>
<line x1="360.00" y1="1144.00" x2="370.60" y2="1144.00" stroke="#222" stroke-width="1.3"/>
<line x1="344.60" y1="1133.90" x2="386.80" y2="1133.90" stroke="#222" stroke-width="1.3"/>
<line x1="344.60" y1="1128.90" x2="344.60" y2="1138.90" stroke="#222" stroke-width="1.3"/>
<line x1="386.80" y1="1128.90" x2="386.80" y2="1138.90" stroke="#222" stroke-width="1.3"/>
<line x1="407.50" y1="1113.20" x2="407.50" y2="1155.40" stroke="#222" stroke-width="1.3"/>
<line x1="402.20" y1="1113.20" x2="412.80" y2="1113.20" stroke="#222" stroke-width="1.3"/>
<line x1="402.20" y1="1155.40" x2="412.80" y2="1155.40" stroke="#222" stroke-width="1.3"/>
<line x1="386.80" y1="1133.90" x2="429.40" y2="1133.90" stroke="#222" stroke-width="1.3"/>
<line x1="386.80" y1="1128.90" x2="386.80" y2="1138.90" stroke="#222" stroke-width="1.3"/>
<line x1="429.40" y1="1128.90" x2="429.40" y2="1138.90" stroke="#222" stroke-width="1.3"/>
<line x1="431.80" y1="1088.70" x2="431.80" y2="1147.00" stroke="#222" stroke-width="1.3"/>
<line x1="426.50" y1="1088.70" x2="437.10" y2="1088.70" stroke="#222" stroke-width="1.3"/>
<line x1="426.50" y1="1147.00" x2="437.10" y2="1147.00" stroke="#222" stroke-width="1.3"/>
<line x1="420.80" y1="1117.25" x2="443.30" y2="1117.25" stroke="#222" stroke-width="1.3"/>
<line x1="420.80" y1="1112.25" x2="420.80" y2="1122.25" stroke="#222" stroke-width="1.3"/>
<line x1="443.30" y1="1112.25" x2="443.30" y2="1122.25" stroke="#222" stroke-width="1.3"/>
<line x1="527.00" y1="1112.30" x2="527.00" y2="1141.60" stroke="#222" stroke-width="1.3"/>
<line x1="521.70" y1="1112.30" x2="532.30" y2="1112.30" stroke="#222" stroke-width="1.3"/>
<line x1="521.70" y1="1141.60" x2="532.30" y2="1141.60" stroke="#222" stroke-width="1.3"/>
<line x1="517.60" y1="1126.25" x2="537.10" y2="1126.25" stroke="#222" stroke-width="1.3"/>
<line x1="517.60" y1="1121.25" x2="517.60" y2="1131.25" stroke="#222" stroke-width="1.3"/>
<line x1="537.10" y1="1121.25" x2="537.10" y2="1131.25" stroke="#222" stroke-width="1.3"/>
<circle cx="59.30" cy="1134.00" r="5.4" fill="#ff00ff" stroke="#000" stroke-width="1.1"/>
<circle cx="83.80" cy="1117.20" r="5.4" fill="#ff00ff" stroke="#000" stroke-width="1.1"/>
<circle cx="179.20" cy="1126.30" r="5.4" fill="#ff00ff" stroke="#000" stroke-width="1.1"/>
<circle cx="216.30" cy="1030.00" r="5.4" fill="#ff00ff" stroke="#000" stroke-width="1.1"/>
<circle cx="242.20" cy="1096.70" r="5.4" fill="#ff00ff" stroke="#000" stroke-width="1.1"/>
<circle cx="272.00" cy="1140.30" r="5.4" fill="#ff00ff" stroke="#000" stroke-width="1.1"/>
<circle cx="306.70" cy="1120.70" r="5.4" fill="#ff00ff" stroke="#000" stroke-width="1.1"/>
<circle cx="365.30" cy="1133.90" r="5.4" fill="#ff00ff" stroke="#000" stroke-width="1.1"/>
<circle cx="407.50" cy="1133.90" r="5.4" fill="#ff00ff" stroke="#000" stroke-width="1.1"/>
<circle cx="431.80" cy="1117.25" r="5.4" fill="#ff00ff" stroke="#000" stroke-width="1.1"/>
<circle cx="527.00" cy="1126.25" r="5.4" fill="#ff00ff" stroke="#000" stroke-width="1.1"/>
</g>
</svg></body></html>
